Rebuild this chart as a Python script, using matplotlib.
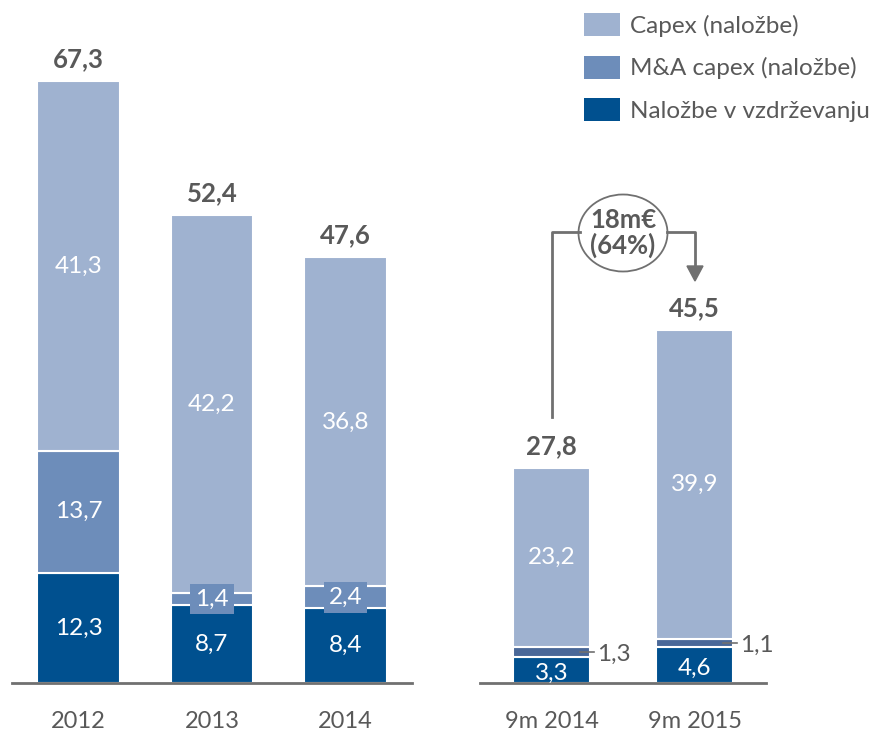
import matplotlib.pyplot as plt
from matplotlib.patches import Ellipse, Patch

plt.rcParams['font.family'] = ['Lato', 'DejaVu Sans']

# data
years = ['2012', '2013', '2014']
maint_y = [12.3, 8.7, 8.4]
mna_y = [13.7, 1.4, 2.4]
capex_y = [41.3, 42.2, 36.8]
totals_y = ['67,3', '52,4', '47,6']

periods = ['9m 2014', '9m 2015']
maint_p = [3.3, 4.6]
mna_p = [1.3, 1.1]
capex_p = [23.2, 39.9]
totals_p = ['27,8', '45,5']

legend_labels = ['Capex (naložbe)', 'M&A capex (naložbe)', 'Naložbe v vzdrževanju']

LIGHT = '#9FB2D0'
MID = '#6D8DBA'
MID_DARK = '#4A6898'
DARK = '#00508F'
GRAY = '#595959'
LINE = '#707070'
FS = 17.5
FS_B = 18.5

W, H = 874, 734
fig = plt.figure(figsize=(W / 100, H / 100), dpi=100)


def fmt(v):
    return f'{v:.1f}'.replace('.', ',')


def px_axes(x0, x1, base, px_per_unit, ymax=80):
    h = ymax * px_per_unit
    ax = fig.add_axes([x0 / W, (H - base) / H, (x1 - x0) / W, h / H])
    ax.set_ylim(0, ymax)
    for s in ['top', 'right', 'left']:
        ax.spines[s].set_visible(False)
    ax.spines['bottom'].set_color(LINE)
    ax.spines['bottom'].set_linewidth(2)
    ax.set_yticks([])
    ax.tick_params(axis='x', length=0, pad=20, labelsize=17, labelcolor=GRAY)
    return ax


# left panel
ax1 = px_axes(12, 412, 683, 8.94)
x1 = range(len(years))
bw = 0.62
ax1.bar(x1, maint_y, bw, color=DARK, edgecolor='white', linewidth=1.5)
ax1.bar(x1, mna_y, bw, bottom=maint_y, color=MID, edgecolor='white', linewidth=1.5)
bot = [a + b for a, b in zip(maint_y, mna_y)]
ax1.bar(x1, capex_y, bw, bottom=bot, color=LIGHT, edgecolor='white', linewidth=1.5)
ax1.set_xlim(-0.5, 2.5)
ax1.set_xticks(list(x1))
ax1.set_xticklabels(years)
for i in x1:
    ax1.text(i, maint_y[i] / 2, fmt(maint_y[i]), ha='center', va='center',
             color='white', fontsize=FS)
    mid = maint_y[i] + mna_y[i] / 2
    if mna_y[i] > 5:
        ax1.text(i, mid, fmt(mna_y[i]), ha='center', va='center', color='white', fontsize=FS)
    else:
        ax1.text(i, mid, fmt(mna_y[i]), ha='center', va='center', color='white', fontsize=FS,
                 bbox=dict(boxstyle='square,pad=0.2', facecolor=MID, edgecolor='none'))
    ax1.text(i, bot[i] + capex_y[i] / 2, fmt(capex_y[i]), ha='center', va='center',
             color='white', fontsize=FS)
    top = bot[i] + capex_y[i]
    ax1.text(i, top + 1.1, totals_y[i], ha='center', va='bottom', color=GRAY,
             fontsize=FS_B, fontweight='bold')

# right panel
ax2 = px_axes(480, 766, 683, 7.75, ymax=90)
x2 = range(len(periods))
bw2 = 0.545
ax2.bar(x2, maint_p, bw2, color=DARK, edgecolor='white', linewidth=1.5)
ax2.bar(x2, mna_p, bw2, bottom=maint_p, color=MID_DARK, edgecolor='white', linewidth=1.5)
bot2 = [a + b for a, b in zip(maint_p, mna_p)]
ax2.bar(x2, capex_p, bw2, bottom=bot2, color=LIGHT, edgecolor='white', linewidth=1.5)
ax2.set_xlim(-0.5, 1.5)
ax2.set_xticks(list(x2))
ax2.set_xticklabels(periods)
for i in x2:
    ax2.text(i, maint_p[i] / 2 - 0.4, fmt(maint_p[i]), ha='center', va='center',
             color='white', fontsize=FS)
    ym = maint_p[i] + mna_p[i] / 2
    ax2.plot([i + 0.2, i + 0.3], [ym, ym], color=LINE, lw=1.2)
    ax2.text(i + 0.32, ym - 0.3, fmt(mna_p[i]), ha='left', va='center', color=GRAY, fontsize=FS)
    ax2.text(i, bot2[i] + capex_p[i] / 2, fmt(capex_p[i]), ha='center', va='center',
             color='white', fontsize=FS)
    top = bot2[i] + capex_p[i]
    ax2.text(i, top + 1.2, totals_p[i], ha='center', va='bottom', color=GRAY,
             fontsize=FS_B, fontweight='bold')

# growth annotation (figure pixel coords)
def fx(x):
    return x / W


def fy(y):
    return 1 - y / H


fig.add_artist(plt.Line2D([fx(552), fx(552), fx(580)], [fy(417), fy(232), fy(232)],
                          color=LINE, lw=2))
fig.add_artist(plt.Line2D([fx(667), fx(695), fx(695)], [fy(232), fy(232), fy(268)],
                          color=LINE, lw=2))
fig.add_artist(plt.Polygon([[fx(687), fy(266)], [fx(703), fy(266)], [fx(695), fy(281)]],
                           closed=True, color=LINE))
fig.add_artist(Ellipse((fx(623), fy(233)), 89 / W, 77 / H, facecolor='white',
                       edgecolor=LINE, lw=1.3))
fig.text(fx(623), fy(233), '18m€\n(64%)', ha='center', va='center', color=GRAY,
         fontsize=FS_B, fontweight='bold', linespacing=1.05)

# legend
handles = [Patch(facecolor=c, edgecolor='none') for c in [LIGHT, MID, DARK]]
fig.legend(handles, legend_labels, loc='upper left', bbox_to_anchor=(fx(584), fy(13)),
           frameon=False, fontsize=FS, labelcolor=GRAY, handlelength=1.48, handleheight=1.07,
           handletextpad=0.42, labelspacing=0.78, borderaxespad=0, borderpad=0)

fig.savefig('out.png', dpi=100)
